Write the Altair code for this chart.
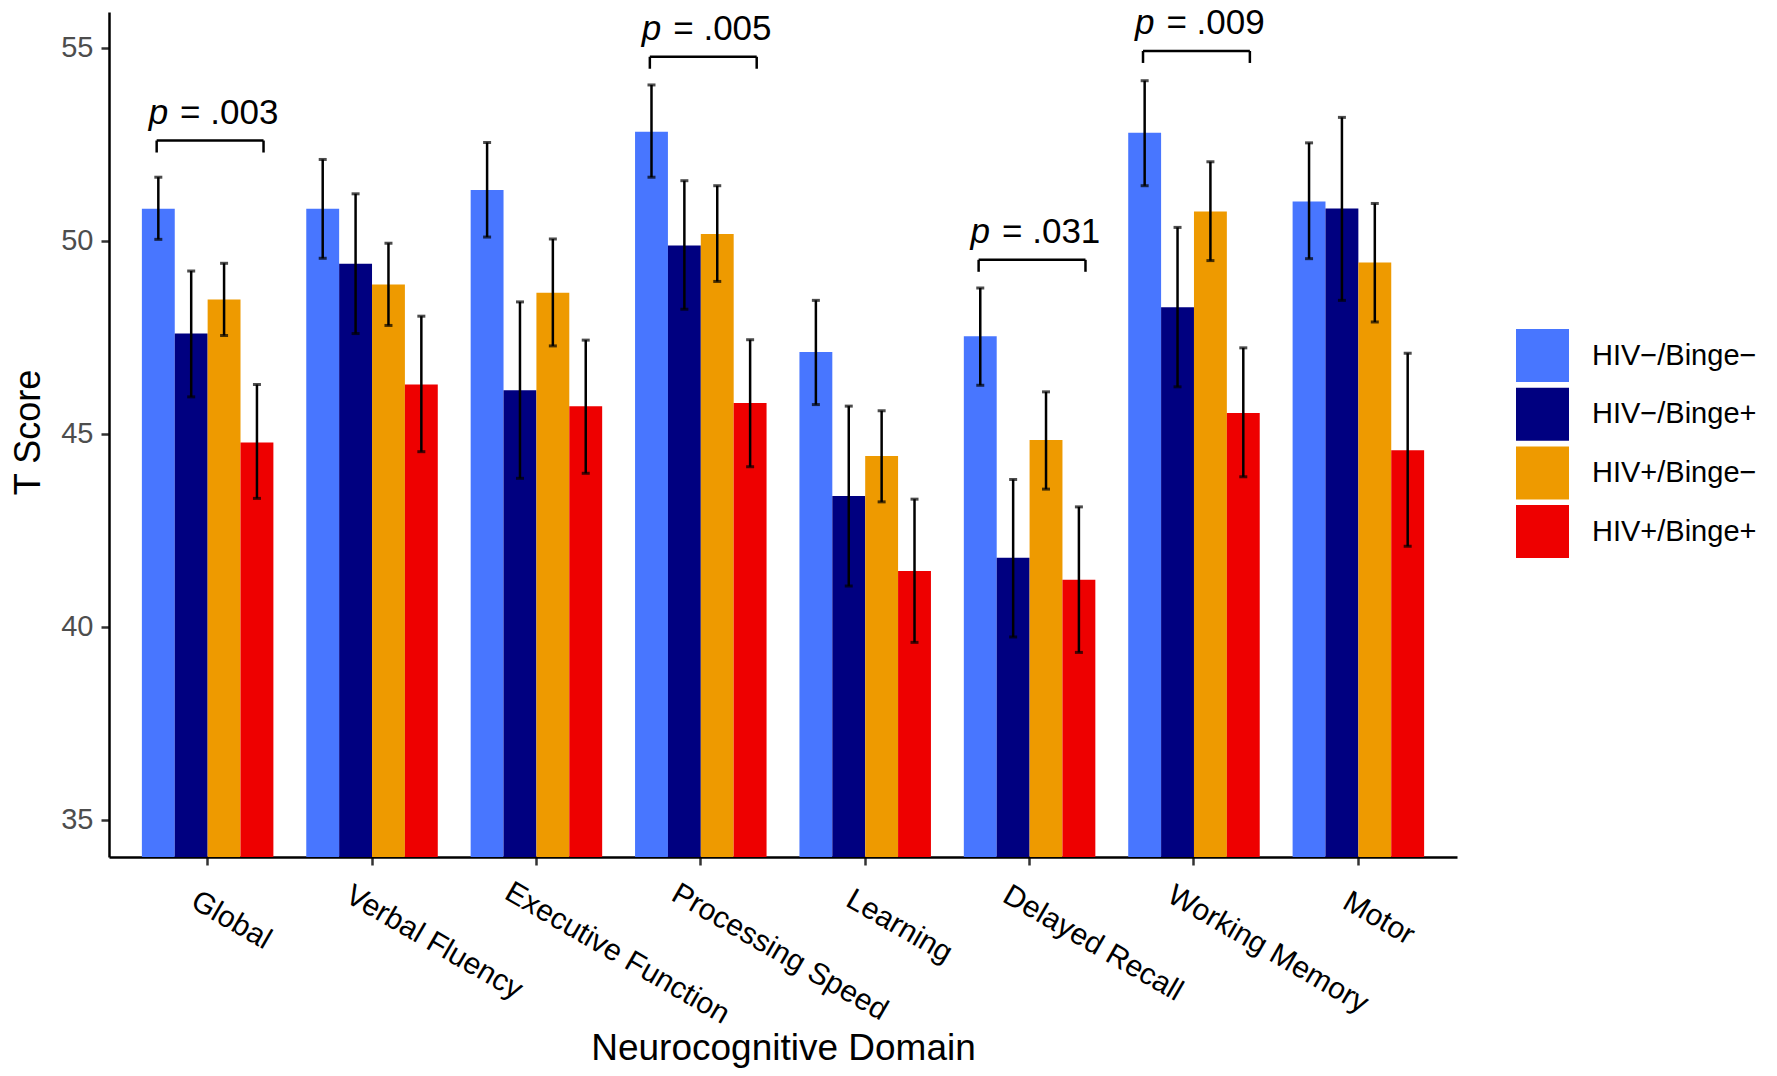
import altair as alt
import pandas as pd

FONT = "Liberation Sans"

domains = ["Global", "Verbal Fluency", "Executive Function", "Processing Speed",
           "Learning", "Delayed Recall", "Working Memory", "Motor"]
groups = ["HIV\u2212/Binge\u2212", "HIV\u2212/Binge+", "HIV+/Binge\u2212", "HIV+/Binge+"]
colors = ["#4876FF", "#000080", "#EE9A00", "#EE0000"]

# means per group (order of domains)
mean_neg_neg = [50.82, 50.82, 51.31, 52.82, 47.11, 47.52, 52.79, 51.01]
mean_neg_pos = [47.59, 49.40, 46.12, 49.87, 43.38, 41.78, 48.27, 50.83]
mean_pos_neg = [48.47, 48.86, 48.65, 50.17, 44.42, 44.83, 50.75, 49.43]
mean_pos_pos = [44.77, 46.27, 45.71, 45.79, 41.44, 41.21, 45.53, 44.57]

# error bar lower / upper ends
lo_neg_neg = [50.03, 49.54, 50.09, 51.64, 45.75, 46.25, 51.42, 49.53]
hi_neg_neg = [51.64, 52.10, 52.54, 54.03, 48.45, 48.77, 54.14, 52.53]
lo_neg_pos = [45.95, 47.59, 43.84, 48.22, 41.05, 39.73, 46.21, 48.45]
hi_neg_pos = [49.21, 51.21, 48.41, 51.55, 45.71, 43.81, 50.34, 53.19]
lo_pos_neg = [47.54, 47.80, 47.27, 48.94, 43.23, 43.56, 49.48, 47.89]
hi_pos_neg = [49.41, 49.93, 50.04, 51.42, 45.59, 46.08, 52.04, 50.96]
lo_pos_pos = [43.32, 44.53, 43.97, 44.14, 39.59, 39.33, 43.88, 42.08]
hi_pos_pos = [46.27, 48.04, 47.42, 47.43, 43.30, 43.10, 47.22, 47.08]

# significance brackets
bracket_domains = ["Global", "Processing Speed", "Delayed Recall", "Working Memory"]
bracket_y = [52.59, 54.76, 49.50, 54.91]
bracket_p = [".003", ".005", ".031", ".009"]

y_ticks = [35, 40, 45, 50, 55]

means = [mean_neg_neg, mean_neg_pos, mean_pos_neg, mean_pos_pos]
los = [lo_neg_neg, lo_neg_pos, lo_pos_neg, lo_pos_pos]
his = [hi_neg_neg, hi_neg_pos, hi_pos_neg, hi_pos_pos]

rows = []
for gi, g in enumerate(groups):
    for di, d in enumerate(domains):
        rows.append({"domain": d, "group": g, "mean": means[gi][di],
                     "lo": los[gi][di], "hi": his[gi][di]})
df = pd.DataFrame(rows)

brows = []
for d, yb, p in zip(bracket_domains, bracket_y, bracket_p):
    pos = domains.index(d) + 1
    brows.append({"left": pos - 0.31, "right": pos + 0.34, "mid": pos + 0.015,
                  "y": yb, "ytip": yb - 0.31, "p": "p", "val": "= " + p})
bdf = pd.DataFrame(brows)

yscale = alt.Scale(domain=[34.03, 55.92], zero=False, nice=False)
xscale = alt.Scale(paddingInner=0.2, paddingOuter=0.2)
oscale = alt.Scale(paddingInner=0, paddingOuter=0)

x_axis = alt.Axis(
    title="Neurocognitive Domain", labelAngle=30, labelAlign="left", labelBaseline="top",
    labelFontSize=30, labelColor="black",
    labelOffset=alt.ExprRef("1 - 1.25 * length(datum.label)"),
    labelPadding=alt.ExprRef("24.5 - 0.72 * length(datum.label)"),
    labelOverlap=False, labelLimit=0, labelBound=False, labelFont=FONT,
    titleFontSize=37, titleFont=FONT, titleFontWeight="normal", titleColor="black",
    titleY=202, titleBaseline="alphabetic",
    domainColor="black", domainWidth=2.5, tickColor="#333333", tickWidth=2.5, tickSize=8,
    grid=False,
)
y_axis = alt.Axis(
    title="T Score", values=y_ticks, labelFontSize=29, labelColor="#4D4D4D", labelFont=FONT,
    labelPadding=8, titleFontSize=36, titleFont=FONT, titleFontWeight="normal",
    titleColor="black", titleX=-81, titleY=420, titleAngle=-90, titleAlign="center",
    titleBaseline="middle", domainColor="black", domainWidth=2.5, tickColor="#333333",
    tickWidth=2.5, tickSize=8, grid=False,
)

X = alt.X("domain:N", sort=domains, scale=xscale, axis=x_axis)
XO = alt.XOffset("group:N", sort=groups, scale=oscale)

def Y(field):
    return alt.Y(field, scale=yscale, axis=y_axis, title="T Score")

bars = alt.Chart(df).mark_bar(clip=True).encode(
    x=X, xOffset=XO,
    y=Y("mean:Q"),
    color=alt.Color("group:N", sort=groups, scale=alt.Scale(domain=groups, range=colors),
                    legend=alt.Legend(title=None, orient="none", legendX=1407, legendY=317,
                                      symbolType="square", symbolSize=2809,
                                      symbolStrokeWidth=0, symbolOpacity=1,
                                      labelFontSize=29, labelFont=FONT, labelColor="black",
                                      labelOffset=23, rowPadding=5.7, padding=0,
                                      labelLimit=400)),
)
err = alt.Chart(df).mark_rule(color="black", strokeWidth=2.5).encode(
    x=X, xOffset=XO, y=Y("lo:Q"), y2="hi:Q")
cap_lo = alt.Chart(df).mark_tick(color="black", thickness=3, size=8, orient="horizontal").encode(
    x=X, xOffset=XO, y=Y("lo:Q"))
cap_hi = alt.Chart(df).mark_tick(color="black", thickness=3, size=8, orient="horizontal").encode(
    x=X, xOffset=XO, y=Y("hi:Q"))

main = alt.layer(bars, err, cap_lo, cap_hi)

qx = alt.Scale(domain=[0.4, 8.6], nice=False, zero=False)
b = alt.Chart(bdf)
b_h = b.mark_rule(color="black", strokeWidth=2.5).encode(
    x=alt.X("left:Q", scale=qx, axis=None), x2="right:Q", y=Y("y:Q"))
b_l = b.mark_rule(color="black", strokeWidth=2.5).encode(
    x=alt.X("left:Q", scale=qx, axis=None), y=Y("y:Q"), y2="ytip:Q")
b_r = b.mark_rule(color="black", strokeWidth=2.5).encode(
    x=alt.X("right:Q", scale=qx, axis=None), y=Y("y:Q"), y2="ytip:Q")
t_p = b.mark_text(font=FONT, fontSize=35, fontStyle="italic", align="right",
                  baseline="alphabetic", dx=-42, dy=-17, color="black").encode(
    x=alt.X("mid:Q", scale=qx, axis=None), y=Y("y:Q"), text="p:N")
t_v = b.mark_text(font=FONT, fontSize=35, align="left",
                  baseline="alphabetic", dx=-30, dy=-17, color="black").encode(
    x=alt.X("mid:Q", scale=qx, axis=None), y=Y("y:Q"), text="val:N")

annot = alt.layer(b_h, b_l, b_r, t_p, t_v)

chart = alt.layer(main, annot).resolve_scale(x="independent").properties(
    width=1348, height=845,
    autosize=alt.AutoSizeParams(type="none"),
    padding={"left": 101, "top": 4, "right": 312, "bottom": 211},
    background="white",
).configure_view(stroke=None)

chart.save("out.html", embed_options={"renderer": "svg", "actions": False})
